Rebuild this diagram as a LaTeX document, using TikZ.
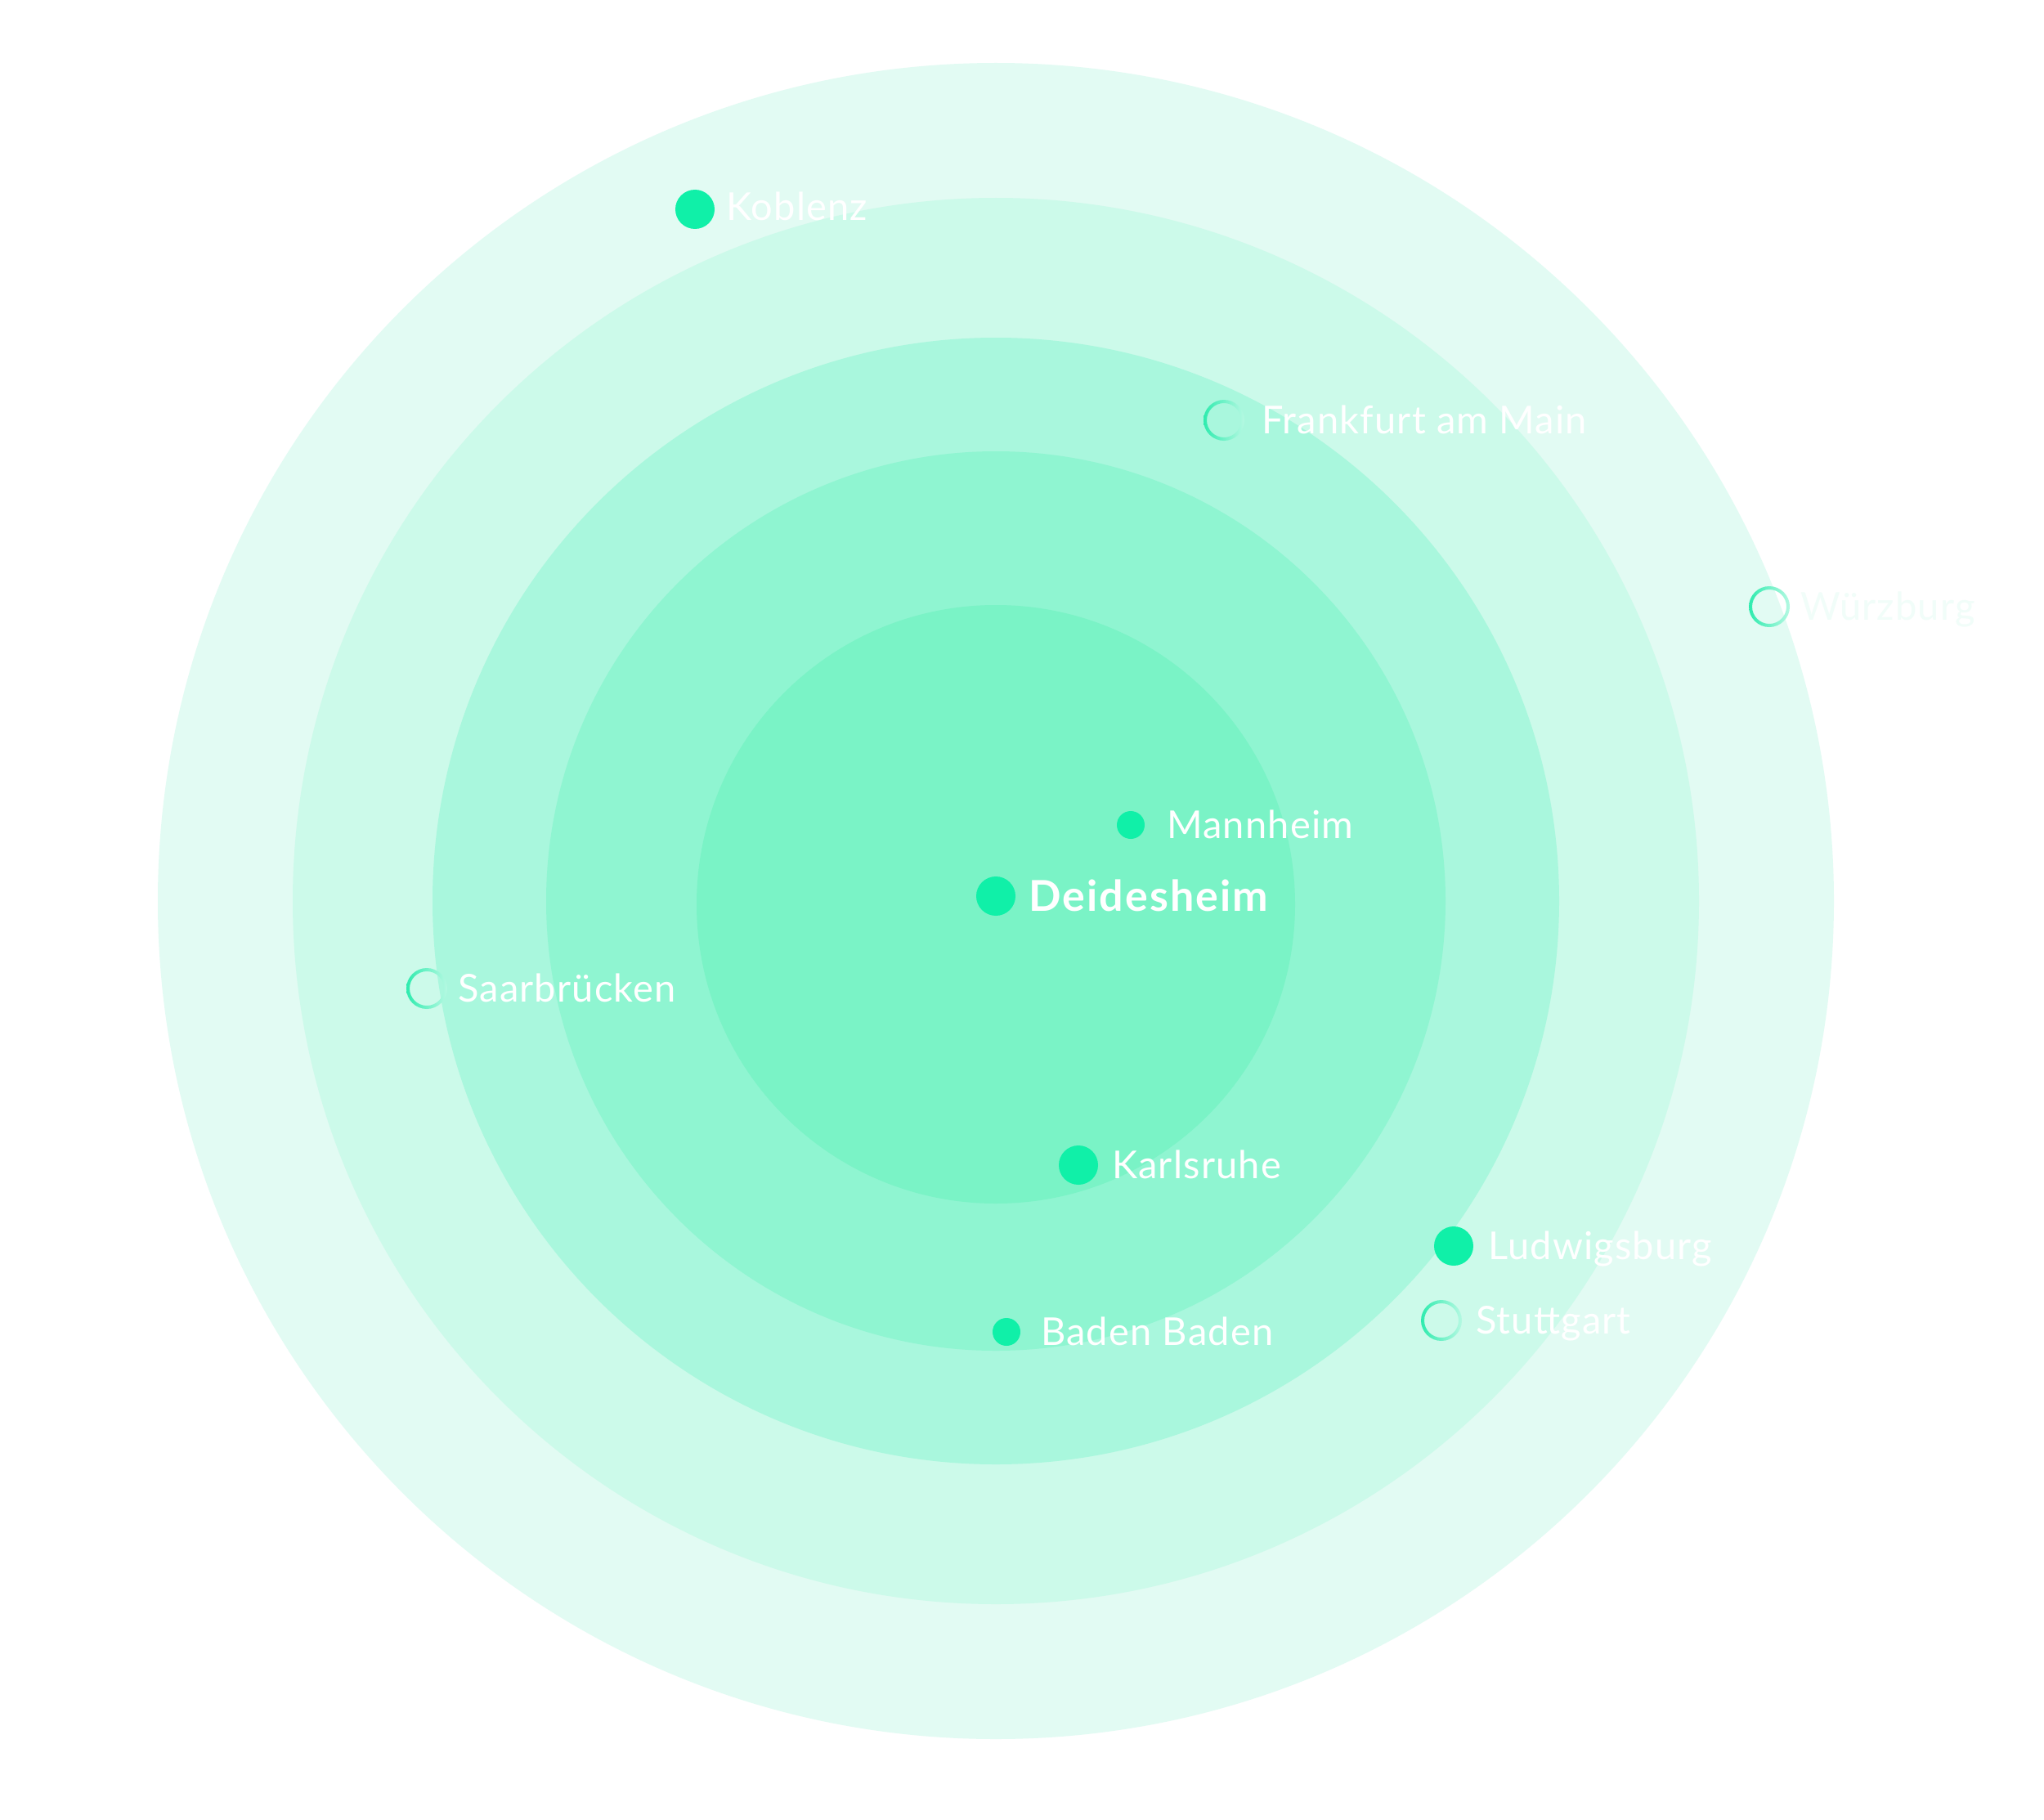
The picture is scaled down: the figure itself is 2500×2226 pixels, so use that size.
\documentclass[tikz,border=0pt]{standalone}
\usepackage{fontspec}
\setmainfont{Lato}[LetterSpace=2.5]
\newfontfamily\boldlato{Lato}[LetterSpace=4]
\definecolor{ringA}{HTML}{E2FBF3}
\definecolor{ringB}{HTML}{CCFAEA}
\definecolor{ringC}{HTML}{A9F7DD}
\definecolor{ringD}{HTML}{8FF5D1}
\definecolor{ringE}{HTML}{7AF3C6}
\definecolor{dotc}{HTML}{10F0A8}
\definecolor{ringl}{HTML}{2EEBAE}
\definecolor{ringr}{HTML}{B5F9E2}
\definecolor{faint}{HTML}{F1FDF9}
\tikzset{
  dotbig/.style={circle, fill=dotc, inner sep=0pt, minimum size=48pt},
  dotsmall/.style={circle, fill=dotc, inner sep=0pt, minimum size=34pt},
  hollow/.style={circle, inner sep=0pt, minimum size=50pt},
  lbl/.style={anchor=base west, inner sep=0pt, text=white, font=\fontsize{47}{50}\selectfont},
  lblbold/.style={lbl, font=\fontsize{52}{56}\boldlato\bfseries},
}
\newcommand{\hollowring}[1]{\path[even odd rule, left color=ringl, right color=ringr] (#1.center) circle (25pt) circle (21pt);}
\begin{document}
\begin{tikzpicture}[x=1pt,y=1pt]
\fill[white] (0,0) rectangle (2500,-2226);
\useasboundingbox (0,0) rectangle (2500,-2226);
\coordinate (c) at (1218,-1102);
\fill[ringA] (c) circle (1025);
\fill[ringB] (c) circle (860);
\fill[ringC] (c) circle (689);
\fill[ringD] (c) circle (550);
\fill[ringE] (1218,-1106) circle (366);
% dots
\node[dotbig] (koblenz) at (850,-256) {};
\node[lbl] (koblenzL) at (888,-270) {Koblenz};
\node[hollow] (frankfurt) at (1497,-514) {};
\hollowring{frankfurt}
\node[lbl] (frankfurtL) at (1543,-530) {Frankfurt am Main};
\node[hollow] (wurzburg) at (2164,-742) {};
\hollowring{wurzburg}
\node[lbl, text=faint] (wurzburgL) at (2202,-758) {Würzburg};
\node[dotsmall] (mannheim) at (1383,-1009) {};
\node[lbl] (mannheimL) at (1427,-1025) {Mannheim};
\node[dotbig] (deidesheim) at (1218,-1096) {};
\node[lblbold] (deidesheimL) at (1258,-1114) {Deidesheim};
\node[hollow] (saar) at (522,-1209) {};
\hollowring{saar}
\node[lbl] (saarL) at (560,-1225) {Saarbrücken};
\node[dotbig] (karlsruhe) at (1319,-1425) {};
\node[lbl] (karlsruheL) at (1360,-1441) {Karlsruhe};
\node[dotbig] (ludwigsburg) at (1778,-1524) {};
\node[lbl] (ludwigsburgL) at (1820,-1540) {Ludwigsburg};
\node[hollow] (stuttgart) at (1763,-1615) {};
\hollowring{stuttgart}
\node[lbl] (stuttgartL) at (1805,-1631) {Stuttgart};
\node[dotsmall] (baden) at (1231,-1629) {};
\node[lbl] (badenL) at (1273,-1645) {Baden Baden};
\end{tikzpicture}
\end{document}
